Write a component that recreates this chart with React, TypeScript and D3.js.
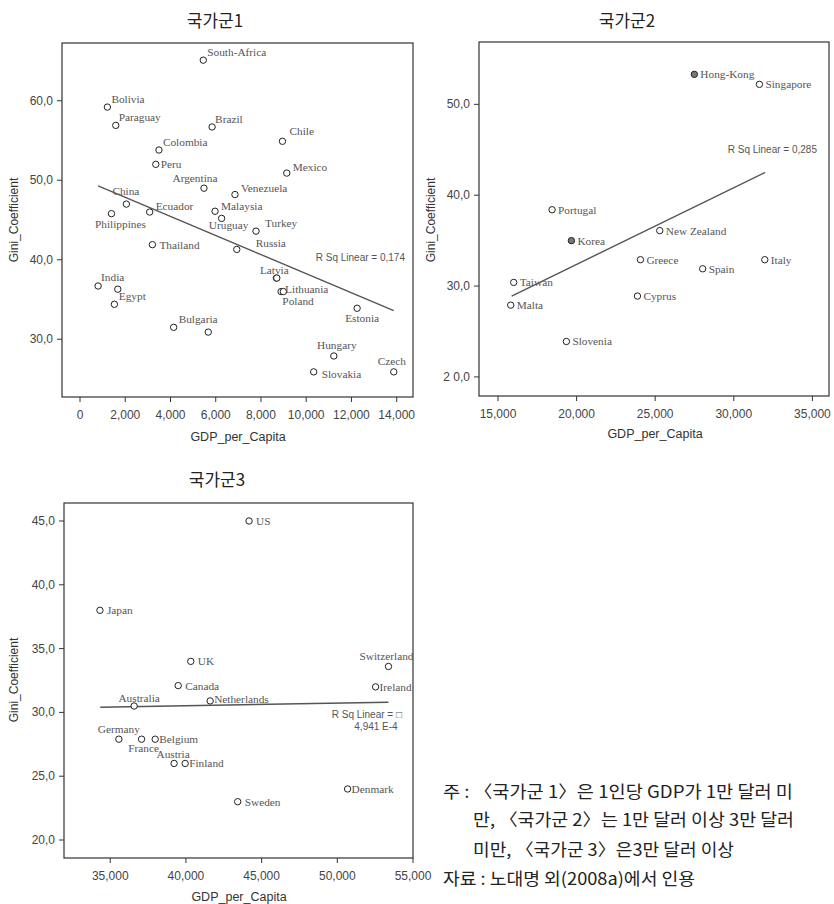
import React from "react";
import * as d3 from "d3";

// 국가군 1 (1인당 GDP 1만 달러 미만)
const names1 = ["South-Africa", "Bolivia", "Paraguay", "Brazil", "Colombia", "Chile", "Peru", "Mexico", "Argentina", "Venezuela", "China", "Ecuador", "Philippines", "Malaysia", "Uruguay", "Turkey", "Thailand", "Russia", "Latvia", "", "Lithuania", "Poland", "Estonia", "India", "Egypt", "", "Bulgaria", "", "Hungary", "Slovakia", "Czech"];
const gdp1 = [5450, 1210, 1580, 5840, 3490, 8950, 3350, 9140, 5480, 6850, 2050, 3080, 1390, 5970, 6260, 7780, 3200, 6930, 8680, 8700, 8890, 8990, 12250, 800, 1670, 1520, 4140, 5670, 11220, 10330, 13870];
const gini1 = [65.1, 59.2, 56.9, 56.7, 53.8, 54.9, 52.0, 50.9, 49.0, 48.2, 47.0, 46.0, 45.8, 46.1, 45.2, 43.6, 41.9, 41.3, 37.7, 37.7, 36.0, 36.0, 33.9, 36.7, 36.3, 34.4, 31.5, 30.9, 27.9, 25.9, 25.9];
const fitX1 = [800, 13870];
const fitY1 = [49.3, 33.6];
const xTicks1 = [0, 2000, 4000, 6000, 8000, 10000, 12000, 14000];
const yTicks1 = [30, 40, 50, 60];
const yTickLabels1 = ["30,0", "40,0", "50,0", "60,0"];

// 국가군 2 (1만 ~ 3만 달러)
const names2 = ["Hong-Kong", "Singapore", "Portugal", "Korea", "New Zealand", "Greece", "Spain", "Italy", "Taiwan", "Malta", "Cyprus", "Slovenia"];
const gdp2 = [27490, 31630, 18440, 19670, 25290, 24060, 28020, 31970, 16000, 15810, 23870, 19350];
const gini2 = [53.3, 52.2, 38.4, 35.0, 36.1, 32.9, 31.9, 32.9, 30.4, 27.9, 28.9, 23.9];
const filled2 = ["Hong-Kong", "Korea"];
const fitX2 = [15870, 31990];
const fitY2 = [28.9, 42.5];
const xTicks2 = [15000, 20000, 25000, 30000, 35000];
const yTicks2 = [20, 30, 40, 50];
const yTickLabels2 = ["2 0,0", "30,0", "40,0", "50,0"];

// 국가군 3 (3만 달러 이상)
const names3 = ["US", "Japan", "UK", "Switzerland", "Canada", "Ireland", "Netherlands", "Australia", "Germany", "France", "Belgium", "Austria", "Finland", "Denmark", "Sweden"];
const gdp3 = [44170, 34320, 40320, 53380, 39490, 52530, 41600, 36580, 35570, 37070, 37970, 39220, 39950, 50680, 43420];
const gini3 = [45.0, 38.0, 34.0, 33.6, 32.1, 32.0, 30.9, 30.5, 27.9, 27.9, 27.9, 26.0, 26.0, 24.0, 23.0];
const fitX3 = [34340, 53380];
const fitY3 = [30.4, 30.8];
const xTicks3 = [35000, 40000, 45000, 50000, 55000];
const yTicks3 = [20, 25, 30, 35, 40, 45];
const yTickLabels3 = ["20,0", "25,0", "30,0", "35,0", "40,0", "45,0"];

const noteLines = [
  "주 : 〈국가군 1〉은 1인당 GDP가 1만 달러 미",
  "만, 〈국가군 2〉는 1만 달러 이상 3만 달러",
  "미만, 〈국가군 3〉은3만 달러 이상",
  "자료 : 노대명 외(2008a)에서 인용",
];

// label placement: [dx, dy, anchor]
type LP = [number, number, string];
const labelPos1: Record<string, LP> = {
  "South-Africa": [4, -8, "start"], Bolivia: [4, -8, "start"], Paraguay: [3, -8, "start"],
  Brazil: [3, -8, "start"], Colombia: [4, -8, "start"], Chile: [7, -10, "start"],
  Peru: [5, 0, "start"], Mexico: [6, -6, "start"], Argentina: [-9, -10, "middle"],
  Venezuela: [6, -7, "start"], China: [-14, -13, "start"], Ecuador: [6, -6, "start"],
  Philippines: [9, 10, "middle"], Malaysia: [6, -5, "start"], Uruguay: [7, 7, "middle"],
  Turkey: [9, -8, "start"], Thailand: [7, 0, "start"], Russia: [19, -6, "start"],
  Latvia: [-2, -8, "middle"], Lithuania: [4, -3, "start"], Poland: [-1, 9, "start"],
  Estonia: [5, 10, "middle"], India: [3, -9, "start"], Egypt: [1, 7, "start"],
  Bulgaria: [5, -8, "start"], Hungary: [3, -11, "middle"], Slovakia: [8, 2, "start"],
  Czech: [-2, -11, "middle"],
};
const labelPos3: Record<string, LP> = {
  Switzerland: [-2, -10, "middle"], Australia: [5, -8, "middle"], Germany: [0, -10, "middle"],
  France: [2, 9, "middle"], Austria: [-1, -9, "middle"], Ireland: [4, 0, "start"],
  Netherlands: [4, -2, "start"], Belgium: [4, 0, "start"], Finland: [4, 0, "start"], Denmark: [4, 0, "start"],
};

const SANS = "'Liberation Sans', Arial, Helvetica, sans-serif";
const SERIF = "'Liberation Serif', 'Times New Roman', serif";
const KR = "'Noto Sans CJK KR', sans-serif";

const fmtX = d3.format(",");

type PanelProps = {
  title: string; titleX: number; titleY: number;
  frame: { l: number; t: number; r: number; b: number };
  xDomain: [number, number]; yDomain: [number, number];
  xTicks: number[]; yTicks: number[]; yTickLabels: string[];
  names: string[]; gdp: number[]; gini: number[]; filled?: string[];
  fitX: number[]; fitY: number[];
  rsq: { text: string; x: number; y: number; anchor: string }[];
  labelPos: Record<string, LP>; defaultPos: LP;
  yLabel: [number, number]; xLabel: [number, number];
};

function Panel(p: PanelProps) {
  const { l, t, r, b } = p.frame;
  const x = d3.scaleLinear().domain(p.xDomain).range([l, r]);
  const y = d3.scaleLinear().domain(p.yDomain).range([b, t]);
  const fit = d3.line<number>().x((d) => x(p.fitX[d])).y((d) => y(p.fitY[d]))([0, 1]) || "";
  return (
    <g>
      <text x={p.titleX} y={p.titleY} textAnchor="middle" dominantBaseline="central" fontFamily={KR} fontSize={17} fill="#222">{p.title}</text>
      <rect x={l} y={t} width={r - l} height={b - t} fill="none" stroke="#333" strokeWidth={1.2} />
      {p.xTicks.map((v) => (
        <g key={"x" + v}>
          <line x1={x(v)} x2={x(v)} y1={b} y2={b + 5} stroke="#333" />
          <text x={x(v)} y={b + 18} textAnchor="middle" dominantBaseline="central" fontFamily={SANS} fontSize={12} fill="#444">{fmtX(v)}</text>
        </g>
      ))}
      {p.yTicks.map((v, i) => (
        <g key={"y" + v}>
          <line x1={l - 5} x2={l} y1={y(v)} y2={y(v)} stroke="#333" />
          <text x={l - 9} y={y(v)} textAnchor="end" dominantBaseline="central" fontFamily={SANS} fontSize={12} fill="#444">{p.yTickLabels[i]}</text>
        </g>
      ))}
      <text transform={`translate(${p.yLabel[0]},${p.yLabel[1]}) rotate(-90)`} textAnchor="middle" dominantBaseline="central" fontFamily={SANS} fontSize={12} fill="#333">Gini_Coefficient</text>
      <text x={p.xLabel[0]} y={p.xLabel[1]} textAnchor="middle" dominantBaseline="central" fontFamily={SANS} fontSize={12.5} fill="#333">GDP_per_Capita</text>
      <path d={fit} stroke="#555" strokeWidth={1.4} fill="none" />
      {p.rsq.map((q, i) => (
        <text key={"r" + i} x={q.x} y={q.y} textAnchor={q.anchor} dominantBaseline="central" fontFamily={SANS} fontSize={10} fill="#555">{q.text}</text>
      ))}
      {p.names.map((n, i) => {
        const cx = x(p.gdp[i]);
        const cy = y(p.gini[i]);
        const isFilled = p.filled && p.filled.includes(n);
        const lp = p.labelPos[n] || p.defaultPos;
        return (
          <g key={"p" + i}>
            <circle cx={cx} cy={cy} r={3.2} fill={isFilled ? "#777" : "#fff"} stroke="#222" strokeWidth={1} />
            {n && (
              <text x={cx + lp[0]} y={cy + lp[1]} textAnchor={lp[2]} dominantBaseline="central" fontFamily={SERIF} fontSize={11.3} fill="#555">{n}</text>
            )}
          </g>
        );
      })}
    </g>
  );
}

const noteX = [443, 473, 473, 443];
const noteY = [790, 818, 848, 877];
const noteW = [350, 321, 261, 252];

export default function App() {
  return (
    <svg width={834} height={904} style={{ position: "absolute", left: 0, top: 0, background: "#fff" }}>
      <rect width={834} height={904} fill="#fff" />
      <Panel
        title="국가군1" titleX={215} titleY={19}
        frame={{ l: 62, t: 43, r: 413, b: 397 }}
        xDomain={[-796, 14721]} yDomain={[22.74, 67.26]}
        xTicks={xTicks1} yTicks={yTicks1} yTickLabels={yTickLabels1}
        names={names1} gdp={gdp1} gini={gini1}
        fitX={fitX1} fitY={fitY1}
        rsq={[{ text: "R Sq Linear = 0,174", x: 405, y: 257, anchor: "end" }]}
        labelPos={labelPos1} defaultPos={[5, 0, "start"]}
        yLabel={[13.5, 220]} xLabel={[238, 437]}
      />
      <Panel
        title="국가군2" titleX={627} titleY={19}
        frame={{ l: 479, t: 42, r: 829, b: 396 }}
        xDomain={[13791, 36056]} yDomain={[17.9, 56.86]}
        xTicks={xTicks2} yTicks={yTicks2} yTickLabels={yTickLabels2}
        names={names2} gdp={gdp2} gini={gini2} filled={filled2}
        fitX={fitX2} fitY={fitY2}
        rsq={[{ text: "R Sq Linear = 0,285", x: 817, y: 149, anchor: "end" }]}
        labelPos={{}} defaultPos={[6, 0, "start"]}
        yLabel={[431, 220]} xLabel={[655, 434]}
      />
      <Panel
        title="국가군3" titleX={217} titleY={478}
        frame={{ l: 64, t: 503, r: 413, b: 858 }}
        xDomain={[31946, 55000]} yDomain={[18.59, 46.41]}
        xTicks={xTicks3} yTicks={yTicks3} yTickLabels={yTickLabels3}
        names={names3} gdp={gdp3} gini={gini3}
        fitX={fitX3} fitY={fitY3}
        rsq={[
          { text: "R Sq Linear = □", x: 402, y: 714, anchor: "end" },
          { text: "4,941 E-4", x: 376, y: 726, anchor: "middle" },
        ]}
        labelPos={labelPos3} defaultPos={[7, 0, "start"]}
        yLabel={[13.5, 680]} xLabel={[239, 897]}
      />
      {noteLines.map((s, i) => (
        <text key={"n" + i} x={noteX[i]} y={noteY[i]} dominantBaseline="central"
          textLength={noteW[i]} lengthAdjust="spacingAndGlyphs"
          fontFamily={KR} fontSize={17} fill="#222">{s}</text>
      ))}
    </svg>
  );
}
